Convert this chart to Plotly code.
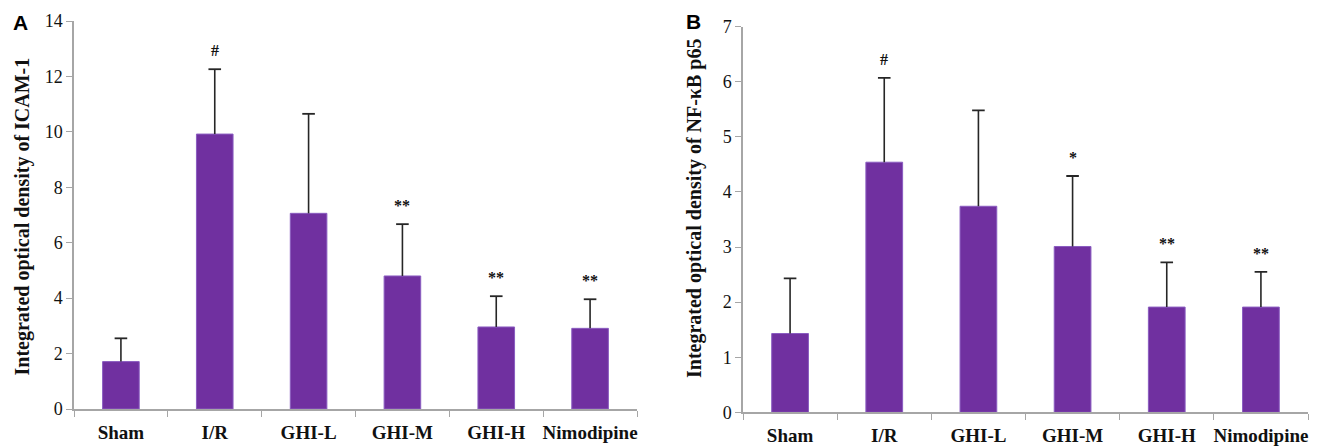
import plotly.graph_objects as go

W, H = 1321, 448

groups = ["Sham", "I/R", "GHI-L", "GHI-M", "GHI-H", "Nimodipine"]

# Panel A: ICAM-1 integrated optical density (mean, SD)
icam_mean = [1.71, 9.92, 7.06, 4.80, 2.96, 2.91]
icam_sd = [0.84, 2.34, 3.59, 1.87, 1.11, 1.05]
icam_sig = ["", "#", "", "**", "**", "**"]

# Panel B: NF-κB p65 integrated optical density (mean, SD)
nfkb_mean = [1.43, 4.54, 3.74, 3.01, 1.91, 1.91]
nfkb_sd = [1.00, 1.53, 1.74, 1.28, 0.81, 0.64]
nfkb_sig = ["", "#", "", "*", "**", "**"]

BAR = "#7030A0"
AXIS = "#a6a6a6"
ERR = "#262626"
SERIF = "Liberation Serif, Times New Roman, serif"
SANS = "Liberation Sans, Arial, sans-serif"


def panel(mean, sd, xa, ya):
    tops = [m + s for m, s in zip(mean, sd)]
    return [
        go.Bar(
            x=groups, y=mean, xaxis=xa, yaxis=ya, width=0.39,
            marker=dict(color=BAR, line=dict(color="#8a5cc0", width=1)),
            error_y=dict(type="data", symmetric=False, array=sd,
                         arrayminus=[0] * len(sd), color=ERR,
                         thickness=1.6, width=0),
            showlegend=False, hoverinfo="skip",
        ),
        # upper caps of the SD whiskers
        go.Scatter(
            x=groups, y=tops, xaxis=xa, yaxis=ya, mode="markers",
            marker=dict(symbol="line-ew-open", size=9, color=ERR,
                        line=dict(color=ERR, width=1.8)),
            showlegend=False, hoverinfo="skip",
        ),
    ]


fig = go.Figure(panel(icam_mean, icam_sd, "x", "y") +
                panel(nfkb_mean, nfkb_sd, "x2", "y2"))

xcommon = dict(type="category", tickson="boundaries", ticks="outside",
               ticklen=6, tickcolor=AXIS, showline=True, linecolor=AXIS,
               linewidth=1.5, showgrid=False, automargin=False, tickangle=0,
               tickmode="array", tickvals=groups, ticklabelstandoff=5,
               ticktext=["<b>%s</b>" % g for g in groups],
               tickfont=dict(family=SERIF, size=19, color="#111"),
               range=[-0.5, 5.5])
ycommon = dict(ticks="outside", ticklen=6, tickcolor=AXIS, showline=True,
               linecolor=AXIS, linewidth=1.5, showgrid=False, zeroline=False,
               automargin=False, tickfont=dict(family=SERIF, size=18, color="#111"))

fig.update_layout(
    width=W, height=H, margin=dict(l=0, r=0, t=0, b=0),
    paper_bgcolor="white", plot_bgcolor="white",
    xaxis=dict(domain=[74 / W, 637 / W], anchor="y", **xcommon),
    xaxis2=dict(domain=[743 / W, 1308 / W], anchor="y2", **xcommon),
    yaxis=dict(domain=[(H - 409) / H, (H - 21) / H], anchor="x",
               range=[0, 14], dtick=2, **ycommon),
    yaxis2=dict(domain=[(H - 412.3) / H, (H - 26.7) / H], anchor="x2",
                range=[0, 7], dtick=1, **ycommon),
)

ann = []
for mean, sd, sig, xr, yr in [(icam_mean, icam_sd, icam_sig, "x", "y"),
                              (nfkb_mean, nfkb_sd, nfkb_sig, "x2", "y2")]:
    for g, m, s, t in zip(groups, mean, sd, sig):
        if t:
            ann.append(dict(x=g, y=m + s, xref=xr, yref=yr, text="<b>%s</b>" % t,
                            showarrow=False, xanchor="center", yanchor="bottom",
                            yshift=8, font=dict(family=SERIF, size=16, color="#111")))

# y-axis titles
ann.append(dict(x=22 / W, y=(H - 216.5) / H, xref="paper", yref="paper",
                xanchor="center", yanchor="middle",
                text="<b>Integrated optical density of ICAM-1</b>", textangle=-90,
                showarrow=False, font=dict(family=SERIF, size=20, color="#111")))
ann.append(dict(x=695 / W, y=(H - 209) / H, xref="paper", yref="paper",
                xanchor="center", yanchor="middle",
                text="<b>Integrated optical density of NF-κB p65</b>", textangle=-90,
                showarrow=False, font=dict(family=SERIF, size=20, color="#111")))

# panel letters
ann.append(dict(x=20 / W, y=(H - 22) / H, xref="paper", yref="paper", text="<b>A</b>",
                xanchor="center", yanchor="middle",
                showarrow=False, font=dict(family=SANS, size=21, color="#000")))
ann.append(dict(x=693 / W, y=(H - 21) / H, xref="paper", yref="paper", text="<b>B</b>",
                xanchor="center", yanchor="middle",
                showarrow=False, font=dict(family=SANS, size=21, color="#000")))

fig.update_layout(annotations=ann)
fig.write_html("out.html")
